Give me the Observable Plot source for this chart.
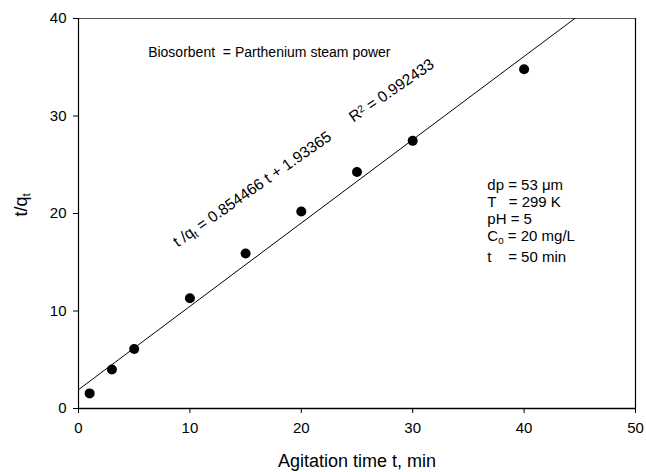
<!DOCTYPE html>
<html>
<head>
<meta charset="utf-8">
<script src="https://cdn.jsdelivr.net/npm/d3@7"></script>
<script src="https://cdn.jsdelivr.net/npm/@observablehq/plot@0.6"></script>
<style>
  html, body { margin: 0; padding: 0; background: #fff; }
  svg { font-family: "Liberation Sans", Arial, sans-serif; }
</style>
</head>
<body>
<div id="chart"></div>
<script>
// Data
const timeMin = [1, 3, 5, 10, 15, 20, 25, 30, 40];
const tOverQ = [1.55, 4.0, 6.1, 11.3, 15.9, 20.2, 24.25, 27.45, 34.8];
const fitSlope = 0.854466;
const fitIntercept = 1.93365;
const fitRange = [0, 50];
const xTicks = [0, 10, 20, 30, 40, 50];
const yTicks = [0, 10, 20, 30, 40];
const conditionLines = ["dp = 53 μm", "T   = 299 K", "pH = 5", "C_0 = 20 mg/L", "t    = 50 min"];
const conditionY = [22.95, 21.2, 19.4, 17.65, 15.5];

const points = timeMin.map((t, i) => ({t, q: tOverQ[i]}));
const fit = fitRange.map(t => ({t, q: fitSlope * t + fitIntercept}));
const conds = conditionLines.map((s, i) => ({s, y: conditionY[i]}));

const font = '"Liberation Sans", Arial, sans-serif';

const chart = Plot.plot({
  width: 646,
  height: 472,
  marginLeft: 78,
  marginRight: 11,
  marginTop: 18,
  marginBottom: 64,
  style: {fontFamily: font, fontSize: "15px", color: "#000", background: "#fff"},
  x: {domain: [0, 50], ticks: xTicks, label: null},
  y: {domain: [0, 40], ticks: yTicks, label: null},
  marks: [
    Plot.axisX({ticks: xTicks, tickSize: 5, tickPadding: 9, fontSize: 15, label: null}),
    Plot.axisY({ticks: yTicks, tickSize: 5, tickPadding: 7, fontSize: 15, label: null}),
    Plot.ruleY([40], {stroke: "#555", strokeWidth: 1.2}),
    Plot.ruleX([50], {stroke: "#000", strokeWidth: 1.2}),
    Plot.ruleX([0], {stroke: "#000", strokeWidth: 1.2}),
    Plot.ruleY([0], {stroke: "#000", strokeWidth: 1.5}),
    Plot.line(fit, {x: "t", y: "q", stroke: "#000", strokeWidth: 1, clip: true}),
    Plot.dot(points, {x: "t", y: "q", r: 5, fill: "#000", stroke: "none"}),
    Plot.text(["Biosorbent  = Parthenium steam power"], {x: 6.25, y: 36.5, text: d => d, textAnchor: "start", fontSize: 14}),
    Plot.text(["t /q_t = 0.854466 t + 1.93365"], {x: 15.6, y: 22.5, text: d => d, rotate: -35, fontSize: 15.5, className: "subtext"}),
    Plot.text(["R^2 = 0.992433"], {x: 28.1, y: 32.6, text: d => d, rotate: -34.5, fontSize: 15.5, className: "subtext"}),
    Plot.text(conds, {x: 36.7, y: "y", text: "s", textAnchor: "start", fontSize: 15, className: "subtext"}),
    Plot.text(["t/q_t"], {frameAnchor: "left", dx: -57, dy: 3, rotate: -90, text: d => d, fontSize: 18, className: "subtext"}),
    Plot.text(["Agitation time t, min"], {frameAnchor: "bottom", dy: 58, text: d => d, fontSize: 18})
  ]
});

// Convert _x / ^x markers into real subscript / superscript tspans
d3.select(chart).selectAll(".subtext text").each(function() {
  const el = d3.select(this);
  const s = el.text();
  if (!/[_^]/.test(s)) return;
  el.text(null);
  const parts = s.split(/([_^].)/);
  for (const p of parts) {
    if (!p) continue;
    if (p[0] === "_") {
      el.append("tspan").attr("font-size", "0.65em").attr("baseline-shift", "-25%").text(p[1]);
    } else if (p[0] === "^") {
      el.append("tspan").attr("font-size", "0.65em").attr("baseline-shift", "45%").text(p[1]);
    } else {
      el.append("tspan").text(p);
    }
  }
});

document.getElementById("chart").appendChild(chart);
</script>
</body>
</html>
